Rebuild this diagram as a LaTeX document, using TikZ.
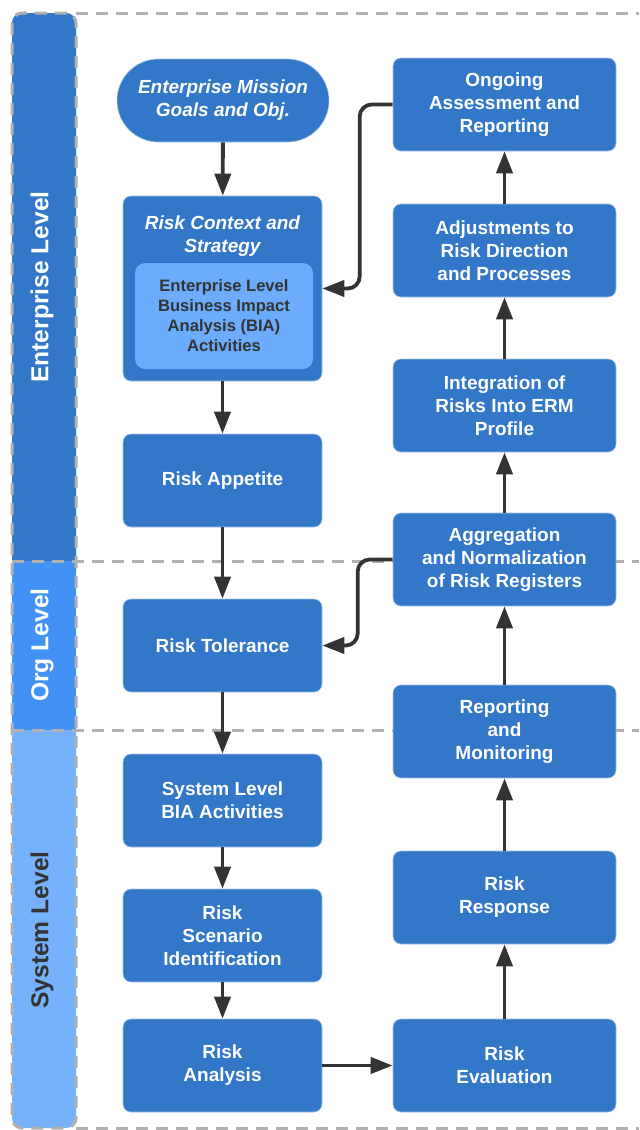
\documentclass[tikz,border=0pt]{standalone}
\usepackage{fontspec}
\setmainfont{Liberation Sans}
\usepackage{tikz}
\usetikzlibrary{arrows.meta,positioning,calc}

\definecolor{boxblue}{HTML}{3277C8}
\definecolor{orgblue}{HTML}{4291F4}
\definecolor{sysblue}{HTML}{76B1FB}
\definecolor{biablue}{HTML}{6BADFC}
\definecolor{darkline}{HTML}{333333}
\definecolor{dashgray}{HTML}{B0B0B0}

\begin{document}
\begin{tikzpicture}[
        x=0.5pt, y=-0.5pt,
        >={Triangle[length=11pt,width=8pt]},
        every node/.style={font=\bfseries\fontsize{9.5}{11.5}\selectfont, align=center},
        stepbox/.style={fill=boxblue, draw=boxblue!45!white, line width=0.3pt,
          rounded corners=4pt, text=white, inner sep=1pt,
          minimum width=99.5pt, minimum height=46.5pt},
        widebox/.style={stepbox, minimum width=111.5pt},
        titletext/.style={text=white, font=\bfseries\itshape\fontsize{9.5}{11.5}\selectfont},
        flow/.style={->, line width=1.9pt, draw=darkline},
        lanesep/.style={dashgray, line width=1.5pt, dash pattern=on 6pt off 4pt},
        lanelabel/.style={rotate=90, font=\bfseries\fontsize{12.3}{14}\selectfont}
      ]

        \useasboundingbox (0,0) rectangle (639,1130);

        % Swim lanes ----------------------------------------------
        \fill[sysblue, rounded corners=5pt] (12,13) rectangle (76,1128);
        \fill[boxblue, rounded corners=5pt] (12,13) rectangle (76,580);
        \fill[orgblue] (12,561) rectangle (76,730);

        \draw[lanesep, rounded corners=5pt] (12,13) rectangle (76,1128);
        \draw[lanesep] (76,13) -- (639,13);
        \draw[lanesep] (76,1128) -- (639,1128);
        \draw[lanesep] (12,561) -- (639,561);   % enterprise / org
        \draw[lanesep] (12,730) -- (639,730);   % org / system

        \node[lanelabel, text=white]    (entlabel) at (42,287) {Enterprise Level};
        \node[lanelabel, text=white]    (orglabel) at (42,645) {Org Level};
        \node[lanelabel, text=darkline] (syslabel) at (42,930) {System Level};

        % Left column ---------------------------------------------
        \node[stepbox, rounded corners=20.75pt, minimum width=106pt,
              minimum height=41.5pt, font=\bfseries\itshape\fontsize{9.5}{11.5}\selectfont]
              (mission) at (223,100.5) {Enterprise Mission\\Goals and Obj.};

        \node[stepbox, minimum height=92.5pt] (context) at (222.5,288.5) {};
        \node[titletext] (ctxtitle) at (222.5,236) {Risk Context and\\Strategy};
        \node[fill=biablue, rounded corners=5pt, minimum width=89pt, minimum height=53pt,
              inner sep=1pt, text=darkline, font=\bfseries\fontsize{8.3}{10}\selectfont]
              (bia) at (224,316) {Enterprise Level\\Business Impact\\Analysis (BIA)\\Activities};

        \node[stepbox] (appetite)  at (222.5,480.5)  {Risk Appetite};
        \node[stepbox] (tolerance) at (222.5,645.5)  {Risk Tolerance};
        \node[stepbox] (sysbia)    at (222.5,800.5)  {System Level\\BIA Activities};
        \node[stepbox] (scenario)  at (222.5,935.5)  {Risk\\Scenario\\Identification};
        \node[stepbox] (analysis)  at (222.5,1065.5) {Risk\\Analysis};

        % Right column --------------------------------------------
        \node[widebox] (ongoing)    at (504.5,104.5)  {Ongoing\\Assessment and\\Reporting};
        \node[widebox] (adjust)     at (504.5,250.5)  {Adjustments to\\Risk Direction\\and Processes};
        \node[widebox] (integrate)  at (504.5,405.5)  {Integration of\\Risks Into ERM\\Profile};
        \node[widebox] (aggregate)  at (504.5,559.5)  {Aggregation\\and Normalization\\of Risk Registers};
        \node[widebox] (reporting)  at (504.5,731.5)  {Reporting\\and\\Monitoring};
        \node[widebox] (response)   at (504.5,897.5)  {Risk\\Response};
        \node[widebox] (evaluation) at (504.5,1065.5) {Risk\\Evaluation};

        % Flow down the left column -------------------------------
        \draw[flow] (mission)   -- (context);
        \draw[flow] (context)   -- (appetite);
        \draw[flow] (appetite)  -- (tolerance);
        \draw[flow] (tolerance) -- (sysbia);
        \draw[flow] (sysbia)    -- (scenario);
        \draw[flow] (scenario)  -- (analysis);
        \draw[flow] (analysis)  -- (evaluation);

        % Flow up the right column --------------------------------
        \draw[flow] (evaluation) -- (response);
        \draw[flow] (response)   -- (reporting);
        \draw[flow] (reporting)  -- (aggregate);
        \draw[flow] (aggregate)  -- (integrate);
        \draw[flow] (integrate)  -- (adjust);
        \draw[flow] (adjust)     -- (ongoing);

        % Feedback loops ------------------------------------------
        \draw[flow, rounded corners=6pt] (ongoing.west) -- ++(-33,0) |- (context.east);
        \draw[flow, rounded corners=6pt] (aggregate.west) -- ++(-35,0) |- (tolerance.east);

      \end{tikzpicture}
\end{document}
